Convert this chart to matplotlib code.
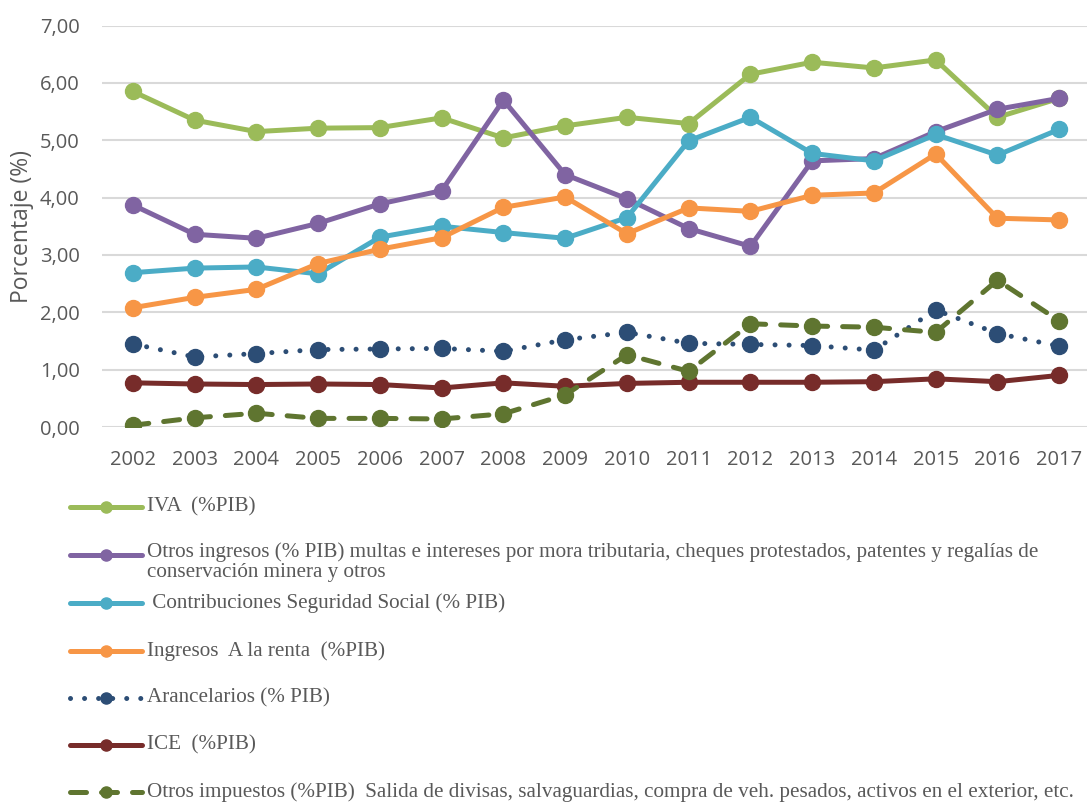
import matplotlib
matplotlib.use("Agg")
import matplotlib.pyplot as plt
from matplotlib.lines import Line2D

years = ["2002", "2003", "2004", "2005", "2006", "2007", "2008", "2009",
         "2010", "2011", "2012", "2013", "2014", "2015", "2016", "2017"]

iva = [5.85, 5.35, 5.15, 5.21, 5.22, 5.39, 5.04, 5.25,
       5.40, 5.29, 6.15, 6.36, 6.26, 6.40, 5.40, 5.73]
otros_ingresos = [3.87, 3.36, 3.29, 3.55, 3.89, 4.12, 5.70, 4.40,
                  3.98, 3.46, 3.15, 4.64, 4.68, 5.15, 5.54, 5.73]
seguridad_social = [2.69, 2.77, 2.79, 2.67, 3.31, 3.50, 3.39, 3.29,
                    3.65, 4.99, 5.40, 4.77, 4.64, 5.10, 4.74, 5.19]
renta = [2.08, 2.26, 2.40, 2.85, 3.10, 3.30, 3.83, 4.01,
         3.37, 3.82, 3.76, 4.04, 4.08, 4.76, 3.64, 3.61]
arancelarios = [1.45, 1.22, 1.28, 1.35, 1.36, 1.37, 1.32, 1.52,
                1.65, 1.46, 1.44, 1.42, 1.34, 2.04, 1.63, 1.41]
ice = [0.77, 0.75, 0.74, 0.75, 0.74, 0.68, 0.77, 0.71,
       0.76, 0.78, 0.78, 0.78, 0.79, 0.84, 0.79, 0.90]
otros_impuestos = [0.03, 0.16, 0.24, 0.15, 0.15, 0.14, 0.23, 0.56,
                   1.26, 0.97, 1.80, 1.76, 1.74, 1.65, 2.56, 1.85]

labels = [
    "IVA  (%PIB)",
    "Otros ingresos (% PIB) multas e intereses por mora tributaria, cheques protestados, patentes y regalías de\nconservación minera y otros",
    " Contribuciones Seguridad Social (% PIB)",
    "Ingresos  A la renta  (%PIB)",
    "Arancelarios (% PIB)",
    "ICE  (%PIB)",
    "Otros impuestos (%PIB)  Salida de divisas, salvaguardias, compra de veh. pesados, activos en el exterior, etc.",
]
series = [iva, otros_ingresos, seguridad_social, renta, arancelarios, ice, otros_impuestos]
colors = ["#9BBB59", "#8064A2", "#4BACC6", "#F79646", "#2C4D75", "#772C2A", "#5F7530"]
dotted = (0, (0.01, 2.8))
dashed = (0, (3.2, 3.0))
styles = ["-", "-", "-", "-", dotted, "-", dashed]

text_gray = "#595959"

fig = plt.figure(figsize=(10.87, 8.05), dpi=100)
ax = fig.add_axes([102 / 1087, 378 / 805, 985 / 1087, 401.5 / 805])

x = list(range(len(years)))
for vals, c, ls in zip(series, colors, styles):
    ax.plot(x, vals, color=c, linestyle=ls, linewidth=3.6,
            marker="o", markersize=11.5, dash_capstyle="round",
            solid_capstyle="round", solid_joinstyle="round")

ax.set_xlim(-0.5, 15.45)
ax.set_ylim(0, 7)
ax.set_yticks(range(0, 8))
ax.set_yticklabels([f"{v},00" for v in range(0, 8)])
ax.set_xticks(x)
ax.set_xticklabels(years)
ax.grid(axis="y", color="#D9D9D9", linewidth=1.5)
ax.set_axisbelow(True)
for s in ax.spines.values():
    s.set_visible(False)
ax.tick_params(length=0, labelsize=14.5, labelcolor=text_gray)
ax.tick_params(axis="x", pad=16.5)
ax.tick_params(axis="y", pad=16)
for lab in ax.get_xticklabels() + ax.get_yticklabels():
    lab.set_fontfamily("Open Sans")
ax.set_ylabel("Porcentaje (%)", fontsize=16.5, color=text_gray,
              fontfamily="Open Sans", labelpad=4)

# legend drawn below the plot, one row per series
rows_y = [507, 555, 603, 651, 698, 745, 792]
for lab, c, ls, yy in zip(labels, colors, styles, rows_y):
    fy = 1 - yy / 805
    fig.add_artist(Line2D([70 / 1087, 142 / 1087], [fy, fy], transform=fig.transFigure,
                          color=c, linestyle=ls, linewidth=3.6,
                          dash_capstyle="round", solid_capstyle="round"))
    fig.add_artist(Line2D([106 / 1087], [fy], transform=fig.transFigure,
                          color=c, marker="o", markersize=8, linestyle="none"))
    if "\n" in lab:
        fig.text(147 / 1087, fy + 13 / 805, lab, fontsize=15.2, color=text_gray,
                 fontfamily="Liberation Serif", va="top", linespacing=1.12)
    else:
        fig.text(147 / 1087, fy, lab, fontsize=15.2, color=text_gray,
                 fontfamily="Liberation Serif", va="center")

fig.savefig("out.png", dpi=100)
